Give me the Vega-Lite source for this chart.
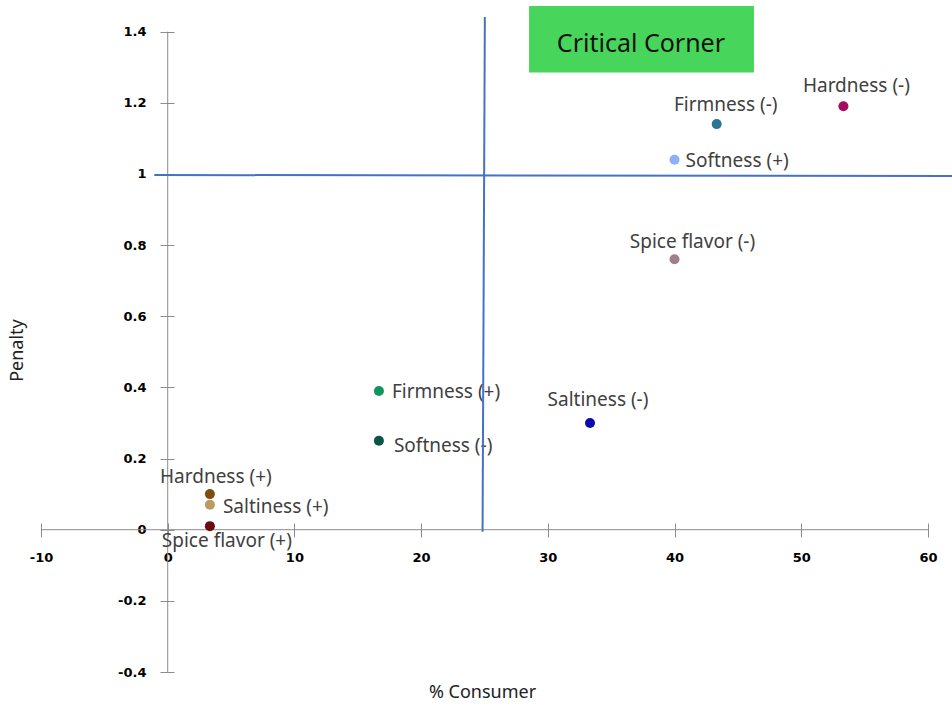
{
  "$schema": "https://vega.github.io/schema/vega-lite/v6.json",
  "width": 911,
  "height": 666,
  "autosize": {"type": "none"},
  "padding": {"left": 41, "top": 6, "right": 0, "bottom": 34},
  "background": "#ffffff",
  "config": {"view": {"stroke": null}, "axis": {"grid": false}},
  "datasets": {
    "points": [
      {"label": "Hardness (-)", "consumer": 53.33, "penalty": 1.19},
      {"label": "Firmness (-)", "consumer": 43.33, "penalty": 1.14},
      {"label": "Softness (+)", "consumer": 40.0, "penalty": 1.04},
      {"label": "Spice flavor (-)", "consumer": 40.0, "penalty": 0.76},
      {"label": "Saltiness (-)", "consumer": 33.33, "penalty": 0.30},
      {"label": "Firmness (+)", "consumer": 16.67, "penalty": 0.39},
      {"label": "Softness (-)", "consumer": 16.67, "penalty": 0.25},
      {"label": "Hardness (+)", "consumer": 3.33, "penalty": 0.10},
      {"label": "Saltiness (+)", "consumer": 3.33, "penalty": 0.07},
      {"label": "Spice flavor (+)", "consumer": 3.33, "penalty": 0.01}
    ],
    "axislines": [
      {"x": -10, "y": 0, "x2": 60, "y2": 0},
      {"x": 0, "y": -0.4, "x2": 0, "y2": 1.4}
    ],
    "guides": [
      {"x": 25.03, "y": 1.441, "x2": 24.85, "y2": -0.006},
      {"x": -1.06, "y": 0.997, "x2": 61.9, "y2": 0.994}
    ],
    "box": [
      {"x": 28.52, "x2": 46.27, "y": 1.472, "y2": 1.285}
    ],
    "boxtext": [
      {"x": 37.35, "y": 1.364, "text": "Critical Corner"}
    ]
  },
  "layer": [
    {
      "data": {"name": "axislines"},
      "mark": {"type": "rule", "color": "#8c8c8c", "strokeWidth": 1},
      "encoding": {
        "x": {
          "field": "x", "type": "quantitative",
          "scale": {"domain": [-10, 61.9], "nice": false, "zero": false},
          "axis": {
            "orient": "bottom", "offset": -149, "domain": false,
            "values": [-10, 0, 10, 20, 30, 40, 50, 60],
            "labelExpr": "'' + datum.value",
            "tickSize": 14, "tickColor": "#8c8c8c", "tickWidth": 1,
            "labelPadding": 14, "labelFont": "DejaVu Sans", "labelFontWeight": "bold",
            "labelFontSize": 13, "labelColor": "#000000", "labelFlush": false, "labelOverlap": false,
            "title": "% Consumer", "titleX": 441, "titleY": 169,
            "titleAlign": "center", "titleBaseline": "middle",
            "titleFont": "Noto Sans", "titleFontSize": 18, "titleFontWeight": "normal", "titleColor": "#222222"
          }
        },
        "y": {
          "field": "y", "type": "quantitative",
          "scale": {"domain": [-0.4, 1.472], "nice": false, "zero": false},
          "axis": {
            "orient": "left", "offset": -133, "domain": false,
            "values": [-0.4, -0.2, 0, 0.2, 0.4, 0.6, 0.8, 1, 1.2, 1.4],
            "labelExpr": "'' + datum.value",
            "tickSize": 14, "tickColor": "#8c8c8c", "tickWidth": 1,
            "labelPadding": 14, "labelFont": "DejaVu Sans", "labelFontWeight": "bold",
            "labelFontSize": 13, "labelColor": "#000000", "labelFlush": false, "labelOverlap": false,
            "title": "Penalty", "titleX": -156.5, "titleY": 344, "titleAngle": 270,
            "titleAlign": "center", "titleBaseline": "middle",
            "titleFont": "Noto Sans", "titleFontSize": 18, "titleFontWeight": "normal", "titleColor": "#222222"
          }
        },
        "x2": {"field": "x2"},
        "y2": {"field": "y2"}
      }
    },
    {
      "data": {"name": "box"},
      "mark": {"type": "rect", "color": "#48d55b"},
      "encoding": {
        "x": {"field": "x", "type": "quantitative"},
        "x2": {"field": "x2"},
        "y": {"field": "y", "type": "quantitative"},
        "y2": {"field": "y2"}
      }
    },
    {
      "data": {"name": "boxtext"},
      "mark": {"type": "text", "font": "Noto Sans", "fontSize": 25, "color": "#111111", "align": "center", "baseline": "middle"},
      "encoding": {
        "x": {"field": "x", "type": "quantitative"},
        "y": {"field": "y", "type": "quantitative"},
        "text": {"field": "text"}
      }
    },
    {
      "data": {"name": "points"},
      "mark": {"type": "circle", "size": 100, "opacity": 1},
      "encoding": {
        "x": {"field": "consumer", "type": "quantitative"},
        "y": {"field": "penalty", "type": "quantitative"},
        "color": {
          "field": "label", "type": "nominal", "legend": null,
          "scale": {
            "domain": ["Hardness (-)", "Firmness (-)", "Softness (+)", "Spice flavor (-)", "Saltiness (-)", "Firmness (+)", "Softness (-)", "Hardness (+)", "Saltiness (+)", "Spice flavor (+)"],
            "range": ["#a50b5e", "#2e7593", "#8db0fa", "#a07f88", "#0a0ab2", "#12955a", "#0b5446", "#7f4e0f", "#be9a62", "#6b0a10"]
          }
        }
      }
    },
    {
      "data": {"name": "points"},
      "transform": [{"filter": "datum.label == 'Hardness (-)'"}],
      "mark": {"type": "text", "font": "Noto Sans", "fontSize": 19, "color": "#404040", "align": "center", "baseline": "middle", "dx": 13, "dy": -20},
      "encoding": {"x": {"field": "consumer", "type": "quantitative"}, "y": {"field": "penalty", "type": "quantitative"}, "text": {"field": "label"}}
    },
    {
      "data": {"name": "points"},
      "transform": [{"filter": "datum.label == 'Firmness (-)'"}],
      "mark": {"type": "text", "font": "Noto Sans", "fontSize": 19, "color": "#404040", "align": "center", "baseline": "middle", "dx": 9, "dy": -19},
      "encoding": {"x": {"field": "consumer", "type": "quantitative"}, "y": {"field": "penalty", "type": "quantitative"}, "text": {"field": "label"}}
    },
    {
      "data": {"name": "points"},
      "transform": [{"filter": "datum.label == 'Softness (+)'"}],
      "mark": {"type": "text", "font": "Noto Sans", "fontSize": 19, "color": "#404040", "align": "left", "baseline": "middle", "dx": 11, "dy": 1},
      "encoding": {"x": {"field": "consumer", "type": "quantitative"}, "y": {"field": "penalty", "type": "quantitative"}, "text": {"field": "label"}}
    },
    {
      "data": {"name": "points"},
      "transform": [{"filter": "datum.label == 'Spice flavor (-)'"}],
      "mark": {"type": "text", "font": "Noto Sans", "fontSize": 19, "color": "#404040", "align": "center", "baseline": "middle", "dx": 18, "dy": -17},
      "encoding": {"x": {"field": "consumer", "type": "quantitative"}, "y": {"field": "penalty", "type": "quantitative"}, "text": {"field": "label"}}
    },
    {
      "data": {"name": "points"},
      "transform": [{"filter": "datum.label == 'Saltiness (-)'"}],
      "mark": {"type": "text", "font": "Noto Sans", "fontSize": 19, "color": "#404040", "align": "center", "baseline": "middle", "dx": 8, "dy": -23},
      "encoding": {"x": {"field": "consumer", "type": "quantitative"}, "y": {"field": "penalty", "type": "quantitative"}, "text": {"field": "label"}}
    },
    {
      "data": {"name": "points"},
      "transform": [{"filter": "datum.label == 'Firmness (+)'"}],
      "mark": {"type": "text", "font": "Noto Sans", "fontSize": 19, "color": "#404040", "align": "left", "baseline": "middle", "dx": 13, "dy": 1},
      "encoding": {"x": {"field": "consumer", "type": "quantitative"}, "y": {"field": "penalty", "type": "quantitative"}, "text": {"field": "label"}}
    },
    {
      "data": {"name": "points"},
      "transform": [{"filter": "datum.label == 'Softness (-)'"}],
      "mark": {"type": "text", "font": "Noto Sans", "fontSize": 19, "color": "#404040", "align": "left", "baseline": "middle", "dx": 15, "dy": 5},
      "encoding": {"x": {"field": "consumer", "type": "quantitative"}, "y": {"field": "penalty", "type": "quantitative"}, "text": {"field": "label"}}
    },
    {
      "data": {"name": "points"},
      "transform": [{"filter": "datum.label == 'Hardness (+)'"}],
      "mark": {"type": "text", "font": "Noto Sans", "fontSize": 19, "color": "#404040", "align": "center", "baseline": "middle", "dx": 6, "dy": -17},
      "encoding": {"x": {"field": "consumer", "type": "quantitative"}, "y": {"field": "penalty", "type": "quantitative"}, "text": {"field": "label"}}
    },
    {
      "data": {"name": "points"},
      "transform": [{"filter": "datum.label == 'Saltiness (+)'"}],
      "mark": {"type": "text", "font": "Noto Sans", "fontSize": 19, "color": "#404040", "align": "left", "baseline": "middle", "dx": 13, "dy": 2},
      "encoding": {"x": {"field": "consumer", "type": "quantitative"}, "y": {"field": "penalty", "type": "quantitative"}, "text": {"field": "label"}}
    },
    {
      "data": {"name": "points"},
      "transform": [{"filter": "datum.label == 'Spice flavor (+)'"}],
      "mark": {"type": "text", "font": "Noto Sans", "fontSize": 19, "color": "#404040", "align": "center", "baseline": "middle", "dx": 17, "dy": 15},
      "encoding": {"x": {"field": "consumer", "type": "quantitative"}, "y": {"field": "penalty", "type": "quantitative"}, "text": {"field": "label"}}
    },
    {
      "data": {"name": "guides"},
      "mark": {"type": "rule", "color": "#4472c4", "strokeWidth": 2},
      "encoding": {
        "x": {"field": "x", "type": "quantitative"},
        "y": {"field": "y", "type": "quantitative"},
        "x2": {"field": "x2"},
        "y2": {"field": "y2"}
      }
    }
  ]
}
